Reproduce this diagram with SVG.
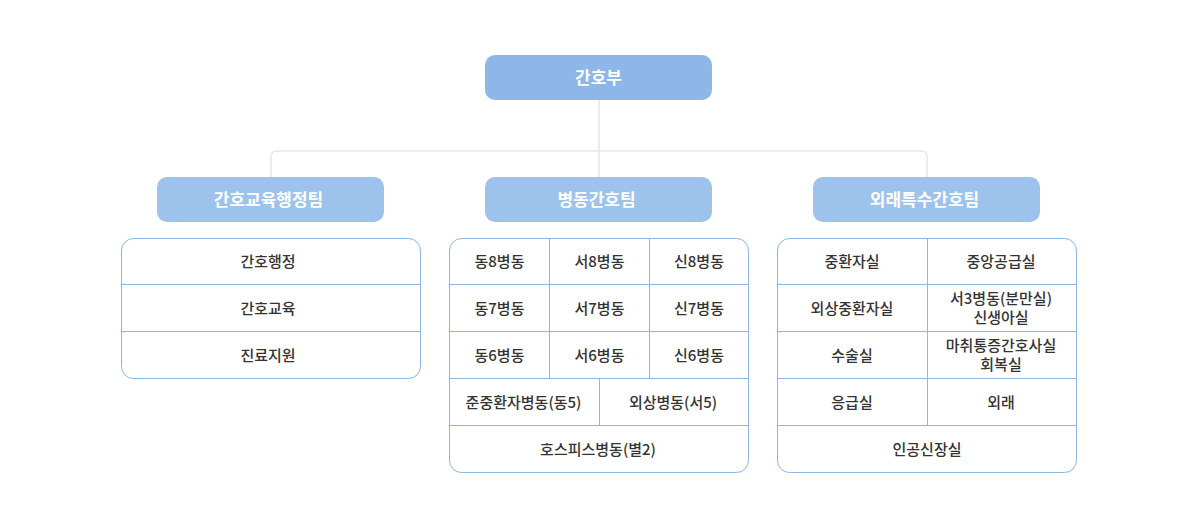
<svg xmlns="http://www.w3.org/2000/svg" width="1200" height="513" viewBox="0 0 1200 513">
<style>
.top{fill:#8cb7e8}
.team{fill:#9dc3ec}
.ht{font-family:"Noto Sans CJK KR","Noto Sans",sans-serif;font-weight:700;font-size:17px;fill:#fff;text-anchor:middle;dominant-baseline:central}
.tbl{fill:#fff;stroke:#8ab6e8;stroke-width:1}
.ln{stroke:#8ab6e8;stroke-width:1;fill:none}
.t{font-family:"Noto Sans CJK KR","Noto Sans",sans-serif;font-weight:500;font-size:15px;fill:#333;text-anchor:middle;dominant-baseline:central}
.con{stroke:#e6e6e6;stroke-width:1.5;fill:none}
</style>
<rect width="1200" height="513" fill="#fff"/>
<g id="connectors">
<path class="con" d="M599 100V177"/>
<path class="con" d="M271 177V157Q271 151 277 151H921Q927 151 927 157V177"/>
</g>
<g id="n-root">
<rect class="top" x="485" y="55" width="227" height="45" rx="10"/>
<text class="ht" x="598.5" y="76.5">간호부</text>
</g>
<g id="n-team1">
<rect class="team" x="157" y="177" width="227" height="45" rx="10"/>
<text class="ht" x="268.5" y="198.5">간호교육행정팀</text>
</g>
<g id="n-team2">
<rect class="team" x="485" y="177" width="227" height="45" rx="10"/>
<text class="ht" x="596.5" y="198.5">병동간호팀</text>
</g>
<g id="n-team3">
<rect class="team" x="813" y="177" width="227" height="45" rx="10"/>
<text class="ht" x="924.5" y="198.5">외래특수간호팀</text>
</g>
<g id="n-table1">
<rect class="tbl" x="121.5" y="238.5" width="299" height="140" rx="12"/>
<path class="ln" d="M121.5 284.5H420.5M121.5 331.5H420.5"/>
<text class="t" x="268" y="260">간호행정</text>
<text class="t" x="268" y="307">간호교육</text>
<text class="t" x="268" y="354">진료지원</text>
</g>
<g id="n-table2">
<rect class="tbl" x="449.5" y="238.5" width="299" height="234" rx="12"/>
<path class="ln" d="M449.5 284.5H748.5M449.5 331.5H748.5M449.5 378.5H748.5M449.5 425.5H748.5M549.5 238.5V378.5M649.5 238.5V378.5M599.5 378.5V425.5"/>
<text class="t" x="499.5" y="260">동8병동</text>
<text class="t" x="599.5" y="260">서8병동</text>
<text class="t" x="699" y="260">신8병동</text>
<text class="t" x="499.5" y="307">동7병동</text>
<text class="t" x="599.5" y="307">서7병동</text>
<text class="t" x="699" y="307">신7병동</text>
<text class="t" x="499.5" y="354">동6병동</text>
<text class="t" x="599.5" y="354">서6병동</text>
<text class="t" x="699" y="354">신6병동</text>
<text class="t" x="523.5" y="401">준중환자병동(동5)</text>
<text class="t" x="673" y="401">외상병동(서5)</text>
<text class="t" x="598" y="448">호스피스병동(별2)</text>
</g>
<g id="n-table3">
<rect class="tbl" x="777.5" y="238.5" width="299" height="234" rx="12"/>
<path class="ln" d="M777.5 284.5H1076.5M777.5 331.5H1076.5M777.5 378.5H1076.5M777.5 425.5H1076.5M927.5 238.5V425.5"/>
<text class="t" x="852" y="260">중환자실</text>
<text class="t" x="1001" y="260">중앙공급실</text>
<text class="t" x="852" y="307">외상중환자실</text>
<text class="t" x="1001" y="297">서3병동(분만실)</text>
<text class="t" x="1001" y="316">신생아실</text>
<text class="t" x="852" y="354">수술실</text>
<text class="t" x="1001" y="344">마취통증간호사실</text>
<text class="t" x="1001" y="363">회복실</text>
<text class="t" x="852" y="401">응급실</text>
<text class="t" x="1001" y="401">외래</text>
<text class="t" x="927" y="448">인공신장실</text>
</g>
</svg>
